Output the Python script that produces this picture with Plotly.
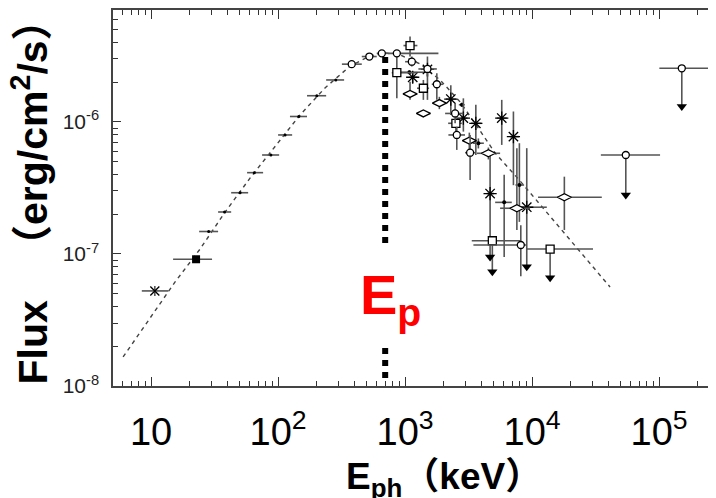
import plotly.graph_objects as go

# ---------------- data (keV, erg/cm^2/s) ----------------
# Band-function fit
model_E = [6.02, 9.82, 15.45, 24.3, 38.3, 60.3, 94.6, 148.9, 234, 369, 530, 697, 914,
           1312, 1888, 2710, 3758, 5117, 8054, 13870, 23880, 41110]
model_F = [1.66e-8, 3.27e-8, 6.14e-8, 1.09e-7, 2.08e-7, 3.77e-7, 6.58e-7, 1.13e-6,
           1.81e-6, 2.65e-6, 3.16e-6, 3.33e-6, 3.22e-6, 2.75e-6, 2.08e-6, 1.42e-6,
           9.02e-7, 5.82e-7, 3.57e-7, 1.94e-7, 1.05e-7, 5.62e-8]

# peak energy and dotted marker line
EP_KEV = 697
ep_upper_F = [3.1e-6, 1.21e-7]
ep_lower_F = [1.94e-8, 1.15e-8]

# small dots (low-energy bins)
gbm_E = [28.4, 37.9, 50.2, 65.0, 87.7, 113.5, 145.6, 201.8, 284.6]
gbm_Elo = [23.9, 33.7, 42.7, 57.0, 74.8, 100, 124, 169, 239]
gbm_Ehi = [33.7, 42.7, 58.1, 76.2, 101.9, 129, 169, 239, 331]
gbm_F = [1.48e-7, 2.08e-7, 2.91e-7, 4.13e-7, 5.62e-7, 7.97e-7, 1.10e-6, 1.58e-6, 2.08e-6]

# filled square and x marker (lowest energies)
fsq_E = [22.6]; fsq_Elo = [14.9]; fsq_Ehi = [30.2]; fsq_F = [9.12e-8]
xm_E = [10.7]; xm_Elo = [8.45]; xm_Ehi = [13.7]; xm_F = [5.25e-8]
xm_Flo = [4.81e-8]; xm_Fhi = [5.73e-8]

# open circles
circ_E = [380, 523, 656, 861, 1130, 1500, 1778, 2477, 2553, 3251, 8150]
circ_Elo = [318, 456, 598, 740, 1000, 1273, 1622, 2066, 2193, 2965, 3450]
circ_Ehi = [456, 598, 740, 1830, 1236, 1778, 1995, 2877, 2965, 3556, 9080]
circ_F = [2.74e-6, 3.13e-6, 3.31e-6, 3.31e-6, 2.86e-6, 2.52e-6, 1.93e-6, 1.16e-6,
          7.97e-7, 5.85e-7, 1.17e-7]
circ_Flo = [2.74e-6, 3.13e-6, 3.31e-6, 3.31e-6, 2.63e-6, 2.2e-6, 1.47e-6, 9.77e-7,
            6.14e-7, 3.64e-7, 6.78e-8]
circ_Fhi = [2.74e-6, 3.13e-6, 3.31e-6, 3.31e-6, 3.13e-6, 2.7e-6, 2.34e-6, 1.39e-6,
            9.2e-7, 7.97e-7, 1.65e-7]

# open circle upper limits
ciul_E = [54700, 151000]
ciul_Elo = [34800, 100500]
ciul_Ehi = [101800, 260000]
ciul_F = [5.62e-7, 2.55e-6]
ciul_tip = [2.8e-7, 1.31e-6]

# open squares
sq_E = [1094, 861, 1393, 2512]
sq_Elo = [971, 785, 1242, 2183]
sq_Ehi = [1250, 1236, 1545, 2799]
sq_F = [3.79e-6, 2.36e-6, 1.80e-6, 9.77e-7]
sq_Flo = [3.13e-6, 1.51e-6, 1.47e-6, 7.97e-7]
sq_Fhi = [4.43e-6, 3.31e-6, 2.08e-6, 1.19e-6]

# open square upper limits
squl_E = [4864, 13870]
squl_Elo = [3350, 9080]
squl_Ehi = [8050, 30200]
squl_F = [1.26e-7, 1.09e-7]
squl_tip = [7.35e-8, 6.6e-8]

# open diamonds
dia_E = [1094, 1393, 1862, 3206, 4530, 7590, 17950]
dia_Elo = [971, 1242, 1670, 2877, 3673, 5600, 11140]
dia_Ehi = [1250, 1585, 2130, 3673, 5600, 9640, 35400]
dia_F = [1.63e-6, 1.16e-6, 1.39e-6, 7.22e-7, 5.79e-7, 2.22e-7, 2.69e-7]
dia_Flo = [1.47e-6, 1.10e-6, 1.25e-6, 6.1e-7, 5.2e-7, 1.52e-7, 1.52e-7]
dia_Fhi = [2.02e-6, 1.22e-6, 1.55e-6, 8.3e-7, 6.4e-7, 6.33e-7, 3.85e-7]

# asterisks
ast_E = [1148, 1500, 2291, 2877, 3606, 5770, 7130]
ast_Elo = [1080, 1400, 2100, 2750, 3300, 5270, 6700]
ast_Ehi = [1250, 1620, 2512, 3100, 4000, 6320, 7900]
ast_F = [2.18e-6, 2.5e-6, 1.49e-6, 1.07e-6, 9.77e-7, 1.07e-6, 7.74e-7]
ast_Flo = [1.97e-6, 1.47e-6, 1.13e-6, 8.45e-7, 5.62e-7, 6.7e-7, 3.32e-7]
ast_Fhi = [2.4e-6, 3.13e-6, 1.9e-6, 1.51e-6, 1.35e-6, 1.47e-6, 1.2e-6]

# asterisk upper limits
astul_E = [4670, 9080]
astul_Elo = [4400, 8050]
astul_Ehi = [5000, 13060]
astul_F = [2.87e-7, 2.26e-7]
astul_Fhi = [5.8e-7, 6.33e-7]
astul_tip = [9.5e-8, 8.0e-8]

# small filled dots
dot_E = [1081, 3776, 6030, 7943, 2800]
dot_Elo = [912, 3420, 5120, 7400, 2650]
dot_Ehi = [1574, 4170, 6920, 8650, 2950]
dot_F = [2.38e-6, 6.9e-7, 2.46e-7, 3.33e-7, 1.35e-6]
dot_Flo = [2.3e-6, 6.3e-7, 9.5e-8, 1.75e-7, 1.3e-6]
dot_Fhi = [2.46e-6, 7.5e-7, 3.98e-7, 6.9e-7, 1.4e-6]

x_tickvals = [10, 100, 1000, 10000, 100000]
x_ticktext = ["10", "10<sup>2</sup>", "10<sup>3</sup>", "10<sup>4</sup>", "10<sup>5</sup>"]
y_tickvals = [1e-8, 1e-7, 1e-6]
y_ticktext = ["10<sup>-8</sup>", "10<sup>-7</sup>", "10<sup>-6</sup>"]

# ---------------- figure ----------------
ERR_COLOR = "#555555"


def errx(E, lo, hi):
    return dict(type="data", symmetric=False,
                array=[h - e for e, h in zip(E, hi)],
                arrayminus=[e - l for e, l in zip(E, lo)],
                color=ERR_COLOR, thickness=1.6, width=0)


def erry(F, lo, hi):
    return dict(type="data", symmetric=False,
                array=[h - f for f, h in zip(F, hi)],
                arrayminus=[f - l for f, l in zip(F, lo)],
                color=ERR_COLOR, thickness=1.6, width=0)


fig = go.Figure()

# model curve
fig.add_trace(go.Scatter(x=model_E, y=model_F, mode="lines",
                         line=dict(color="#444444", width=1.4, dash="4px,4px"),
                         hoverinfo="skip"))

# Ep dotted line
fig.add_trace(go.Scatter(x=[EP_KEV, EP_KEV, None, EP_KEV, EP_KEV],
                         y=ep_upper_F + [None] + ep_lower_F, mode="lines",
                         line=dict(color="black", width=6, dash="6px,6px")))

marker_line = dict(color="black", width=1.3)

# low-energy small dots
fig.add_trace(go.Scatter(x=gbm_E, y=gbm_F, mode="markers",
                         marker=dict(symbol="circle", size=3, color="black"),
                         error_x=errx(gbm_E, gbm_Elo, gbm_Ehi)))
fig.add_trace(go.Scatter(x=fsq_E, y=fsq_F, mode="markers",
                         marker=dict(symbol="square", size=8, color="black"),
                         error_x=errx(fsq_E, fsq_Elo, fsq_Ehi)))
fig.add_trace(go.Scatter(x=xm_E, y=xm_F, mode="markers",
                         marker=dict(symbol="x-thin-open", size=9, color="black", line=marker_line),
                         error_x=errx(xm_E, xm_Elo, xm_Ehi),
                         error_y=erry(xm_F, xm_Flo, xm_Fhi)))

# upper-limit vertical lines (point to arrow tip)
for E, lo, hi, F, tip in [(squl_E, squl_Elo, squl_Ehi, squl_F, squl_tip),
                          (ciul_E, ciul_Elo, ciul_Ehi, ciul_F, ciul_tip)]:
    fig.add_trace(go.Scatter(x=E, y=F, mode="markers", marker=dict(size=1, opacity=0),
                             error_x=errx(E, lo, hi),
                             error_y=erry(F, tip, F)))
fig.add_trace(go.Scatter(x=astul_E, y=astul_F, mode="markers", marker=dict(size=1, opacity=0),
                         error_x=errx(astul_E, astul_Elo, astul_Ehi),
                         error_y=erry(astul_F, astul_tip, astul_Fhi)))

# arrow heads
fig.add_trace(go.Scatter(x=squl_E + ciul_E + astul_E, y=squl_tip + ciul_tip + astul_tip,
                         mode="markers",
                         marker=dict(symbol="triangle-down", size=9, color="black")))

# small filled dots
fig.add_trace(go.Scatter(x=dot_E, y=dot_F, mode="markers",
                         marker=dict(symbol="circle", size=4, color="black"),
                         error_x=errx(dot_E, dot_Elo, dot_Ehi),
                         error_y=erry(dot_F, dot_Flo, dot_Fhi)))

# asterisks
fig.add_trace(go.Scatter(x=ast_E, y=ast_F, mode="markers",
                         marker=dict(symbol="asterisk-open", size=11, color="black", line=marker_line),
                         error_x=errx(ast_E, ast_Elo, ast_Ehi),
                         error_y=erry(ast_F, ast_Flo, ast_Fhi)))
fig.add_trace(go.Scatter(x=astul_E, y=astul_F, mode="markers",
                         marker=dict(symbol="asterisk-open", size=11, color="black", line=marker_line)))

# squares
fig.add_trace(go.Scatter(x=sq_E, y=sq_F, mode="markers",
                         marker=dict(symbol="square", size=8, color="white", line=marker_line),
                         error_x=errx(sq_E, sq_Elo, sq_Ehi),
                         error_y=erry(sq_F, sq_Flo, sq_Fhi)))
fig.add_trace(go.Scatter(x=squl_E, y=squl_F, mode="markers",
                         marker=dict(symbol="square", size=8, color="white", line=marker_line)))

# diamonds
fig.add_trace(go.Scatter(x=dia_E, y=dia_F, mode="markers",
                         marker=dict(symbol="diamond-wide", size=10, color="white", line=marker_line),
                         error_x=errx(dia_E, dia_Elo, dia_Ehi),
                         error_y=erry(dia_F, dia_Flo, dia_Fhi)))

# circles
fig.add_trace(go.Scatter(x=circ_E, y=circ_F, mode="markers",
                         marker=dict(symbol="circle", size=7, color="white", line=marker_line),
                         error_x=errx(circ_E, circ_Elo, circ_Ehi),
                         error_y=erry(circ_F, circ_Flo, circ_Fhi)))
fig.add_trace(go.Scatter(x=ciul_E, y=ciul_F, mode="markers",
                         marker=dict(symbol="circle", size=7, color="white", line=marker_line)))

# minor tick positions
x_minor = [k * 10 ** n for n in range(0, 6) for k in range(2, 10)]
y_minor = [k * 10.0 ** n for n in range(-9, -4) for k in range(2, 10)]

fig.update_layout(
    width=716, height=498,
    margin=dict(l=105, r=6, t=2, b=120, autoexpand=False),
    paper_bgcolor="white", plot_bgcolor="white",
    showlegend=False,
    font=dict(family="Arial, Liberation Sans, sans-serif", color="black"),
    xaxis=dict(type="log", range=[0.70, 5.464], automargin=False,
               tickmode="array", tickvals=x_tickvals, ticktext=x_ticktext,
               ticks="inside", ticklen=9, tickwidth=1.2, tickcolor="#333",
               showline=True, linecolor="#444", linewidth=1.5, mirror="allticks",
               showgrid=False, zeroline=False,
               tickfont=dict(size=38, family="Arial, Liberation Sans, sans-serif", color="black"),
               ticklabelstandoff=12,
               minor=dict(tickmode="array", tickvals=x_minor, ticks="inside",
                          ticklen=5, tickwidth=1, tickcolor="#333", showgrid=False)),
    yaxis=dict(type="log", range=[-8, -5.152], automargin=False,
               tickmode="array", tickvals=y_tickvals, ticktext=y_ticktext,
               ticks="inside", ticklen=8, tickwidth=1.2, tickcolor="#333",
               showline=True, linecolor="#444", linewidth=1.5, mirror="allticks",
               showgrid=False, zeroline=False,
               tickfont=dict(size=21, family="Liberation Sans Narrow, Arial Narrow, sans-serif",
                             color="#222"),
               ticklabelstandoff=8,
               minor=dict(tickmode="array", tickvals=y_minor, ticks="inside",
                          ticklen=5, tickwidth=1, tickcolor="#333", showgrid=False)),
)

CJK = "Arial, Liberation Sans, Noto Sans CJK SC, sans-serif"
fig.add_annotation(text="<b>Flux&nbsp;&nbsp;&nbsp;（erg/cm<sup>2</sup>/s）</b>",
                   xref="paper", yref="paper", x=-0.138, y=0.516, textangle=-90,
                   xanchor="center", yanchor="middle", showarrow=False,
                   font=dict(size=41, family=CJK, color="black"))
fig.add_annotation(text="<b>E<sub>ph</sub>（keV）</b>",
                   xref="paper", yref="paper", x=0.381, y=-0.181,
                   xanchor="left", yanchor="top", showarrow=False,
                   font=dict(size=37, family=CJK, color="black"))
fig.add_annotation(text="<b>E<sub>p</sub></b>",
                   x=2.843, xref="x", yref="paper", y=0.232, xshift=5,
                   xanchor="center", yanchor="middle", showarrow=False,
                   font=dict(size=56, family="Arial, Liberation Sans, sans-serif", color="#ff0000"))

fig.write_html("out.html")
